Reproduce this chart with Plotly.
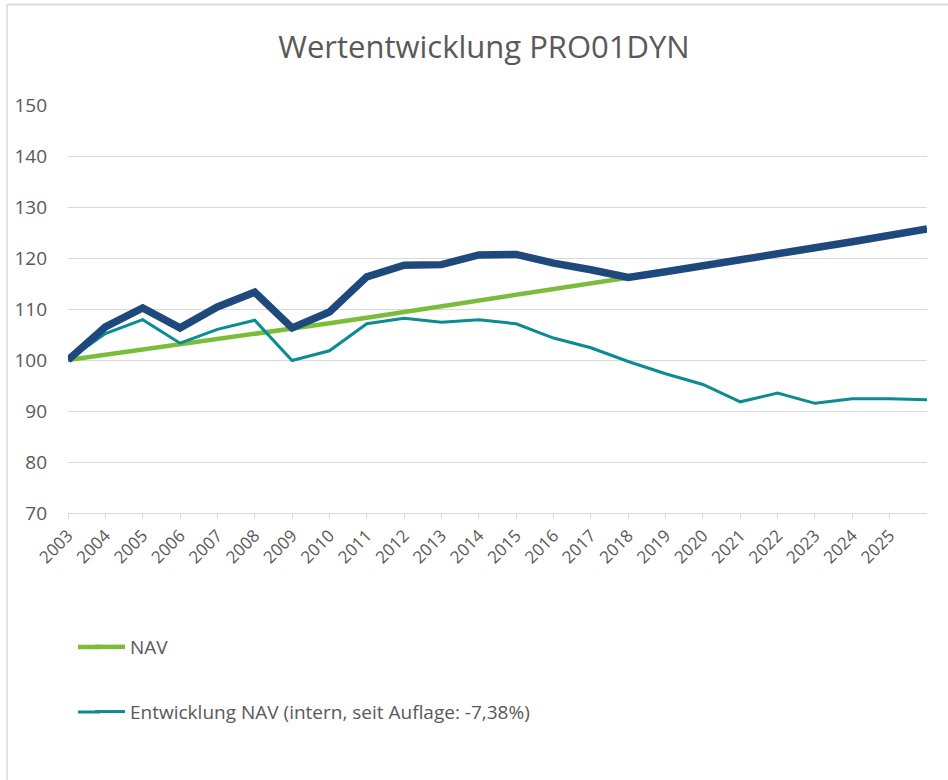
import plotly.graph_objects as go

years = list(range(2003, 2027))
tick_years = list(range(2003, 2026))

nav = [100.0, 101.0, 102.0, 103.0, 104.1, 105.1, 106.2, 107.2, 108.3, 109.4, 110.5,
       111.6, 112.7, 113.8, 114.9, 116.1, 117.3, 118.4, 119.6, 120.8, 122.0, 123.2,
       124.5, 125.7]
gesamt = [100.0, 106.5, 110.2, 106.3, 110.4, 113.3, 106.3, 109.4, 116.3, 118.6, 118.7,
          120.6, 120.7, 119.0, 117.7, 116.2, 117.3, 118.4, 119.6, 120.8, 122.0, 123.2,
          124.5, 125.7]
entwicklung = [100.0, 105.2, 107.9, 103.3, 106.0, 107.8, 99.9, 101.8, 107.1, 108.2, 107.4,
               107.9, 107.1, 104.3, 102.4, 99.7, 97.3, 95.2, 91.8, 93.5, 91.5, 92.4,
               92.4, 92.2]

FONT = "Open Sans"
GREY = "#595959"
GREEN = "#7abd3a"
TEAL = "#0b8b92"
NAVY = "#1f497d"

L, R, T, B = 68, 21, 105, 267
PW, PH = 948 - L - R, 780 - T - B


def px(x):
    return (x - L) / PW


def py(y):
    return (780 - B - y) / PH


fig = go.Figure()
fig.add_trace(go.Scatter(x=years, y=nav, mode="lines", name="NAV",
                         line=dict(color=GREEN, width=4.5), legendgroup="a"))
fig.add_trace(go.Scatter(x=years, y=entwicklung, mode="lines",
                         name="Entwicklung NAV (intern, seit Auflage: -7,38%)",
                         line=dict(color=TEAL, width=3), legendgroup="b"))
fig.add_trace(go.Scatter(x=years, y=gesamt, mode="lines", name="Gesamt",
                         line=dict(color=NAVY, width=7.5), showlegend=False))

fig.update_layout(
    width=948, height=780,
    margin=dict(l=L, r=R, t=T, b=B),
    paper_bgcolor="white", plot_bgcolor="white",
    title=dict(text="Wertentwicklung PRO01DYN", x=484 / 948, xanchor="center",
               y=1 - 47 / 780, yanchor="middle",
               font=dict(family=FONT, size=31, color=GREY)),
    font=dict(family=FONT, color=GREY),
    showlegend=True,
    legend=dict(x=px(90), xanchor="left", y=py(628), yanchor="top",
                orientation="v", traceorder="grouped", tracegroupgap=37,
                font=dict(family=FONT, size=19, color=GREY),
                bgcolor="rgba(0,0,0,0)"),
    xaxis=dict(range=[2003, 2026], tickmode="array", tickvals=tick_years,
               ticktext=[str(y) for y in tick_years], tickangle=-45,
               showgrid=False, showline=True, linecolor="#d9d9d9", linewidth=1,
               ticks="outside", ticklen=5, tickcolor="#d9d9d9",
               tickfont=dict(family=FONT, size=17, color=GREY), zeroline=False),
    yaxis=dict(range=[70, 150], tickmode="array", tickvals=list(range(70, 151, 10)),
               showgrid=True, gridcolor="#d9d9d9", gridwidth=1, zeroline=False,
               showline=False, ticks="", ticklabelstandoff=20,
               tickfont=dict(family=FONT, size=19, color=GREY)),
    shapes=[
        dict(type="line", xref="paper", yref="paper",
             x0=px(7), x1=px(948), y0=py(4.5), y1=py(4.5),
             line=dict(color="#d9d9d9", width=2)),
        dict(type="line", xref="paper", yref="paper",
             x0=px(7), x1=px(7), y0=py(4.5), y1=py(780),
             line=dict(color="#d9d9d9", width=1.5)),
        # extend legend line samples to the left, as in the original legend
        dict(type="line", xref="paper", yref="paper",
             x0=px(78), x1=px(100), y0=py(647), y1=py(647),
             line=dict(color=GREEN, width=4.5)),
        dict(type="line", xref="paper", yref="paper",
             x0=px(78), x1=px(100), y0=py(712), y1=py(712),
             line=dict(color=TEAL, width=3)),
    ],
)

fig.write_html("out.html", config={"displayModeBar": False},
               post_script="document.body.style.margin='0';")
